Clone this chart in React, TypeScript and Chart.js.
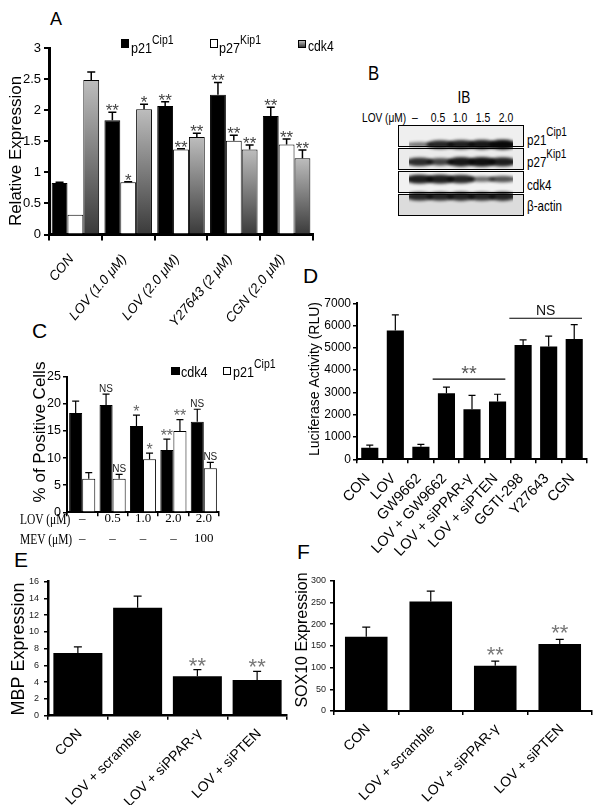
import React, { useEffect, useRef } from "react";
import { Chart, registerables } from "chart.js";
Chart.register(...registerables);

const SANS = '"Liberation Sans", Arial, sans-serif';
const SERIF = '"Liberation Serif", "Times New Roman", serif';

// ---------- Panel A ----------
const aCategories = ["CON", "LOV (1.0 μM)", "LOV (2.0 μM)", "Y27643 (2 μM)", "CGN (2.0 μM)"];
const aP21 = [0.83, 1.84, 2.07, 2.25, 1.91];
const aP21Err = [0.01, 0.13, 0.07, 0.2, 0.14];
const aP21Sig = ["", "**", "**", "**", "**"];
const aP27 = [0.32, 0.84, 1.37, 1.51, 1.45];
const aP27Err = [0, 0.01, 0.01, 0.09, 0.09];
const aP27Sig = ["", "*", "**", "**", "**"];
const aCdk4 = [2.49, 2.02, 1.57, 1.37, 1.23];
const aCdk4Err = [0.13, 0.08, 0.06, 0.07, 0.13];
const aCdk4Sig = ["", "*", "**", "**", "**"];

// ---------- Panel B (immunoblot) ----------
const blotLanes = ["–", "0.5", "1.0", "1.5", "2.0"];
const blotRowNames = ["p21", "p27", "cdk4", "β-actin"];
const blotRowSups = ["Cip1", "Kip1", "", ""];
const blotP21 = [0.3, 0.8, 0.85, 0.9, 1.0];
const blotP27 = [0.75, 0.6, 0.9, 0.95, 0.85];
const blotCdk4 = [0.85, 0.85, 0.8, 0.35, 0.5];
const blotActin = [0.8, 0.8, 0.82, 0.8, 0.82];

// ---------- Panel C ----------
const cLov = ["–", "0.5", "1.0", "2.0", "2.0"];
const cMev = ["–", "–", "–", "–", "100"];
const cCdk4 = [18.3, 19.8, 15.9, 11.5, 16.7];
const cCdk4Err = [2.2, 2.0, 2.0, 2.0, 2.3];
const cCdk4Sig = ["", "NS", "*", "**", "NS"];
const cP21 = [6.2, 6.2, 9.8, 15.0, 8.1];
const cP21Err = [1.1, 0.8, 1.1, 2.1, 1.1];
const cP21Sig = ["", "NS", "*", "**", "NS"];

// ---------- Panel D ----------
const dCategories = ["CON", "LOV", "GW9662", "LOV + GW9662", "LOV + siPPAR-γ", "LOV + siPTEN", "GGTI-298", "Y27643", "CGN"];
const dValues = [520, 5780, 560, 2960, 2250, 2590, 5130, 5060, 5400];
const dErr = [120, 700, 110, 280, 620, 330, 230, 470, 640];
const dBrackets = [
  { first: 3, last: 5, level: 3600, label: "**" },
  { first: 6, last: 8, level: 6330, label: "NS" },
];

// ---------- Panel E ----------
const eCategories = ["CON", "LOV + scramble", "LOV + siPPAR-γ", "LOV + siPTEN"];
const eValues = [7.5, 12.9, 4.7, 4.25];
const eErr = [0.72, 1.38, 0.8, 1.05];
const eSig = ["", "", "**", "**"];

// ---------- Panel F ----------
const fCategories = ["CON", "LOV + scramble", "LOV + siPPAR-γ", "LOV + siPTEN"];
const fValues = [171, 252, 104, 154];
const fErr = [22, 24, 11, 11];
const fSig = ["", "", "**", "**"];

// ---------- plugins ----------
const errPlugin = {
  id: "errbars",
  afterDatasetsDraw(chart: any, _a: any, o: any) {
    const ctx = chart.ctx;
    const ys = chart.scales.y;
    chart.data.datasets.forEach((ds: any, di: number) => {
      const meta = chart.getDatasetMeta(di);
      meta.data.forEach((el: any, i: number) => {
        const v = ds.data[i];
        const e = ds.err ? ds.err[i] : 0;
        const yTop = ys.getPixelForValue(v + e);
        ctx.save();
        if (e > 0) {
          ctx.strokeStyle = "#000";
          ctx.lineWidth = o.lw;
          ctx.beginPath();
          ctx.moveTo(el.x, el.y);
          ctx.lineTo(el.x, yTop);
          ctx.moveTo(el.x - o.cap / 2, yTop);
          ctx.lineTo(el.x + o.cap / 2, yTop);
          ctx.stroke();
        }
        const s = ds.sig ? ds.sig[i] : "";
        if (s) {
          const ns = s === "NS";
          ctx.font = ns ? o.nsFont : o.starFont;
          ctx.fillStyle = ns ? o.nsColor : o.starColor;
          ctx.textAlign = "center";
          ctx.textBaseline = "alphabetic";
          ctx.fillText(s, el.x, yTop - (ns ? o.nsGap : o.starGap));
        }
        ctx.restore();
      });
    });
  },
};

const titlePlugin = {
  id: "ytitle",
  afterDraw(chart: any, _a: any, o: any) {
    if (!o || !o.text) return;
    const ctx = chart.ctx;
    ctx.save();
    ctx.translate(o.cx, o.cy);
    ctx.rotate(-Math.PI / 2);
    ctx.font = `${o.size}px ${SANS}`;
    ctx.fillStyle = "#000";
    ctx.textAlign = "center";
    ctx.textBaseline = "middle";
    ctx.fillText(o.text, 0, 0);
    ctx.restore();
  },
};

const bracketPlugin = {
  id: "brackets",
  afterDatasetsDraw(chart: any, _a: any, o: any) {
    if (!o || !o.items) return;
    const xs = chart.scales.x;
    const ys = chart.scales.y;
    const ctx = chart.ctx;
    const half = (xs.getPixelForValue(1) - xs.getPixelForValue(0)) / 2;
    o.items.forEach((b: any) => {
      const x1 = xs.getPixelForValue(b.first) - half - 1;
      const x2 = xs.getPixelForValue(b.last) + half - 5;
      const y = ys.getPixelForValue(b.level);
      ctx.save();
      ctx.strokeStyle = "#000";
      ctx.lineWidth = 1.2;
      ctx.beginPath();
      ctx.moveTo(x1, y);
      ctx.lineTo(x2, y);
      ctx.stroke();
      const ns = b.label === "NS";
      ctx.font = ns ? `14px ${SANS}` : `20px ${SANS}`;
      ctx.fillStyle = ns ? "#111" : "#555";
      ctx.textAlign = "center";
      ctx.textBaseline = "alphabetic";
      ctx.fillText(b.label, (x1 + x2) / 2, ns ? y - 3 : y + 1);
      ctx.restore();
    });
  },
};

function grayGradient(c: any) {
  const chart = c.chart;
  const ys = chart.scales && chart.scales.y;
  if (!ys || c.type !== "data" || typeof c.raw !== "number") return "#888";
  const top = ys.getPixelForValue(c.raw);
  const bot = ys.getPixelForValue(0);
  if (!isFinite(top) || !isFinite(bot) || bot - top < 1) return "#888";
  const g = chart.ctx.createLinearGradient(0, top, 0, bot);
  g.addColorStop(0, "#bdbdbd");
  g.addColorStop(1, "#3a3a3a");
  return g;
}

type Box = { x: number; y: number; w: number; h: number };
type Area = { l: number; t: number; r: number; b: number };

function barChart(canvas: HTMLCanvasElement, s: any) {
  const box: Box = s.box;
  const area: Area = s.area;
  const yW = area.l - box.x;
  const xH = box.y + box.h - area.b;
  return new Chart(canvas, {
    type: "bar",
    data: {
      labels: s.labels,
      datasets: s.series.map((d: any) => ({
        data: d.data,
        err: d.err,
        sig: d.sig,
        backgroundColor: d.fill === "gradient" ? grayGradient : d.fill,
        borderColor: "#000",
        borderWidth: d.bw,
        barPercentage: s.barPct,
        categoryPercentage: s.catPct,
      })),
    } as any,
    options: {
      responsive: false,
      maintainAspectRatio: false,
      animation: false,
      events: [],
      layout: { padding: { top: area.t - box.y, right: box.x + box.w - area.r, left: 0, bottom: 0 } },
      plugins: {
        legend: { display: false },
        tooltip: { enabled: false },
        errbars: s.err,
        ytitle: { text: s.title.text, size: s.title.size, cx: s.title.cx - box.x, cy: s.title.cy - box.y },
        brackets: s.brackets ? { items: s.brackets } : undefined,
      } as any,
      scales: {
        x: {
          type: "category",
          offset: true,
          z: 1,
          grid: { offset: true, drawOnChartArea: false, drawTicks: true, tickLength: s.xTickLen, color: "#000", lineWidth: s.tickW },
          border: { display: true, color: "#000", width: s.axisW },
          ticks: {
            autoSkip: false,
            maxRotation: s.xRot,
            minRotation: s.xRot,
            font: s.xFont,
            color: "#000",
            padding: s.xPad,
            labelOffset: s.xOff || 0,
          },
          afterFit: (sc: any) => {
            sc.height = xH;
          },
        },
        y: {
          min: s.yMin,
          max: s.yMax,
          z: 1,
          grid: { drawOnChartArea: false, drawTicks: true, tickLength: s.yTickLen, color: "#000", lineWidth: s.tickW },
          border: { display: true, color: "#000", width: s.axisW },
          ticks: {
            stepSize: s.yStep,
            font: s.yFont,
            color: s.yColor,
            padding: s.yPad,
            callback: (v: any) => String(v),
          },
          afterFit: (sc: any) => {
            sc.width = yW;
          },
        },
      },
    } as any,
    plugins: [errPlugin, titlePlugin, bracketPlugin] as any,
  });
}

// ---------- layout specs ----------
const A_SPEC = {
  box: { x: 0, y: 30, w: 322, h: 300 },
  area: { l: 49, t: 48.3, r: 313, b: 234.5 },
  labels: aCategories,
  series: [
    { data: aP21, err: aP21Err, sig: aP21Sig, fill: "#000", bw: 1 },
    { data: aP27, err: aP27Err, sig: aP27Sig, fill: "#fff", bw: 1 },
    { data: aCdk4, err: aCdk4Err, sig: aCdk4Sig, fill: "gradient", bw: 1 },
  ],
  yMin: 0, yMax: 3, yStep: 0.5,
  yFont: { family: SANS, size: 13 }, yColor: "#000", yTickLen: 5, yPad: 3,
  xFont: { family: SANS, size: 13.5, style: "italic" }, xRot: 50, xTickLen: 6, xPad: 11, xOff: -4,
  axisW: 3, tickW: 2, barPct: 1, catPct: 0.9,
  title: { text: "Relative Expression", size: 17, cx: 16, cy: 151 },
  err: { lw: 1.5, cap: 8, starFont: `17px ${SANS}`, starColor: "#444", starGap: -4, nsFont: `11px ${SANS}`, nsColor: "#222", nsGap: 2 },
};

const C_SPEC = {
  box: { x: 0, y: 350, w: 235, h: 210 },
  area: { l: 67, t: 376.7, r: 219, b: 512.3 },
  labels: cLov.map((l, i) => [l, cMev[i]]),
  series: [
    { data: cCdk4, err: cCdk4Err, sig: cCdk4Sig, fill: "#000", bw: 1 },
    { data: cP21, err: cP21Err, sig: cP21Sig, fill: "#fff", bw: 1 },
  ],
  yMin: 0, yMax: 25, yStep: 5,
  yFont: { family: SANS, size: 12.5 }, yColor: "#000", yTickLen: 4, yPad: 2,
  xFont: { family: SERIF, size: 13, lineHeight: 1.5 }, xRot: 0, xTickLen: 4, xPad: -7,
  axisW: 2, tickW: 1.5, barPct: 1, catPct: 0.86,
  title: { text: "% of Positive Cells", size: 17, cx: 40, cy: 432 },
  err: { lw: 1.2, cap: 7, starFont: `16px ${SANS}`, starColor: "#666", starGap: -1.5, nsFont: `10px ${SANS}`, nsColor: "#222", nsGap: 2 },
};

const D_SPEC = {
  box: { x: 290, y: 280, w: 311, h: 300 },
  area: { l: 357, t: 303.3, r: 587, b: 459.3 },
  labels: dCategories,
  series: [{ data: dValues, err: dErr, sig: [], fill: "#000", bw: 0 }],
  yMin: 0, yMax: 7000, yStep: 1000,
  yFont: { family: SANS, size: 12 }, yColor: "#000", yTickLen: 4, yPad: 2,
  xFont: { family: SANS, size: 14.5 }, xRot: 47, xTickLen: 4, xPad: 7, xOff: -2,
  axisW: 2, tickW: 1.5, barPct: 0.67, catPct: 1,
  title: { text: "Luciferase Activity (RLU)", size: 14, cx: 315, cy: 379 },
  err: { lw: 1.2, cap: 7, starFont: `16px ${SANS}`, starColor: "#666", starGap: 0, nsFont: `14px ${SANS}`, nsColor: "#111", nsGap: 3 },
  brackets: dBrackets,
};

const E_SPEC = {
  box: { x: 0, y: 565, w: 300, h: 240 },
  area: { l: 48, t: 581.7, r: 287, b: 715.7 },
  labels: eCategories,
  series: [{ data: eValues, err: eErr, sig: eSig, fill: "#000", bw: 0 }],
  yMin: 0, yMax: 16, yStep: 2,
  yFont: { family: SANS, size: 9 }, yColor: "#222", yTickLen: 4, yPad: 5,
  xFont: { family: SANS, size: 14 }, xRot: 45, xTickLen: 4, xPad: 6, xOff: 2,
  axisW: 2.5, tickW: 1.5, barPct: 0.82, catPct: 1,
  title: { text: "MBP Expression", size: 18, cx: 19, cy: 649 },
  err: { lw: 1.2, cap: 8, starFont: `22px ${SANS}`, starColor: "#777", starGap: -3, nsFont: `11px ${SANS}`, nsColor: "#222", nsGap: 2 },
};

const F_SPEC = {
  box: { x: 290, y: 565, w: 311, h: 240 },
  area: { l: 334, t: 580.7, r: 592, b: 711 },
  labels: fCategories,
  series: [{ data: fValues, err: fErr, sig: fSig, fill: "#000", bw: 0 }],
  yMin: 0, yMax: 300, yStep: 50,
  yFont: { family: SANS, size: 9 }, yColor: "#222", yTickLen: 4, yPad: 4,
  xFont: { family: SANS, size: 14 }, xRot: 45, xTickLen: 4, xPad: 6, xOff: 2,
  axisW: 2, tickW: 1.5, barPct: 0.66, catPct: 1,
  title: { text: "SOX10 Expression", size: 16, cx: 303, cy: 640 },
  err: { lw: 1.2, cap: 8, starFont: `22px ${SANS}`, starColor: "#777", starGap: -1, nsFont: `11px ${SANS}`, nsColor: "#222", nsGap: 2 },
};

const BLOT_BOX = { x: 398, y: 125, w: 126, h: 91 };

function bandImage(intensity: number) {
  const c = document.createElement("canvas");
  c.width = 36;
  c.height = 20;
  const g = c.getContext("2d")!;
  g.filter = "blur(1.6px)";
  g.fillStyle = `rgba(8,8,8,${0.35 + 0.65 * intensity})`;
  g.beginPath();
  g.ellipse(18, 10, 14, 1.6 + 3.4 * intensity, 0, 0, Math.PI * 2);
  g.fill();
  return c;
}

function blotChart(canvas: HTMLCanvasElement) {
  const rows = [blotP21, blotP27, blotCdk4, blotActin];
  const pts: any[] = [];
  const imgs: any[] = [];
  rows.forEach((row, r) =>
    row.forEach((v, l) => {
      pts.push({ x: l + 1, y: r + 0.5 });
      imgs.push(bandImage(v));
    })
  );
  return new Chart(canvas, {
    type: "scatter",
    data: {
      datasets: [
        {
          data: pts,
          pointStyle: (c: any) => imgs[c.dataIndex],
          pointRadius: 10,
        },
      ],
    } as any,
    options: {
      responsive: false,
      maintainAspectRatio: false,
      animation: false,
      events: [],
      layout: { padding: 0 },
      plugins: { legend: { display: false }, tooltip: { enabled: false } },
      scales: {
        x: { type: "linear", min: 0.5, max: 0.5 + blotLanes.length, display: false },
        y: { type: "linear", min: 0, max: rows.length, reverse: true, display: false },
      },
    } as any,
  });
}

function T(props: any) {
  const { x, y, size, font = SANS, align = "left", color = "#000", sx = 1, children, style = {} } = props;
  const tx = align === "center" ? "-50%" : "0";
  return (
    <div
      style={{
        position: "absolute",
        left: x,
        top: y - 0.846 * size,
        fontSize: size,
        lineHeight: `${size}px`,
        fontFamily: font,
        color,
        whiteSpace: "nowrap",
        transform: `translateX(${tx}) scaleX(${sx})`,
        transformOrigin: align === "center" ? "center" : "left center",
        ...style,
      }}
    >
      {children}
    </div>
  );
}

function Sup({ children, size, dy }: any) {
  return <span style={{ fontSize: size, position: "relative", top: dy }}>{children}</span>;
}

function Sq({ x, y, w, h, bg }: any) {
  return (
    <div
      style={{ position: "absolute", left: x, top: y, width: w, height: h, background: bg, border: "1px solid #000", boxSizing: "border-box" }}
    />
  );
}

function ChartCanvas({ spec, build }: any) {
  const ref = useRef<HTMLCanvasElement>(null);
  useEffect(() => {
    const ch = build(ref.current!, spec);
    return () => ch.destroy();
  }, []);
  const b = spec.box;
  return (
    <canvas
      ref={ref}
      width={b.w}
      height={b.h}
      style={{ position: "absolute", left: b.x, top: b.y, width: b.w, height: b.h }}
    />
  );
}

const N = 0.84; // horizontal condensing of the figure's narrow lettering

export default function App() {
  const stripBg = ["#efefef", "#ebebeb", "#f1f1f1", "#dcdcdc"];
  return (
    <div style={{ position: "absolute", left: 0, top: 0, width: 601, height: 805, background: "#fff", overflow: "hidden", fontFamily: SANS }}>
      {/* panel letters */}
      <T x={50} y={25} size={18}>A</T>
      <T x={368} y={80} size={21} sx={0.8}>B</T>
      <T x={32} y={338} size={21}>C</T>
      <T x={303} y={283} size={21}>D</T>
      <T x={14} y={567} size={21}>E</T>
      <T x={297} y={559} size={21}>F</T>

      {/* Panel A */}
      <ChartCanvas spec={A_SPEC} build={barChart} />
      <Sq x={121} y={39} w={8} h={9} bg="#000" />
      <T x={131} y={52.5} size={15} sx={N}>p21<Sup size={12.5} dy={-9}>Cip1</Sup></T>
      <Sq x={210} y={39} w={8} h={9} bg="#fff" />
      <T x={218.5} y={52.5} size={15} sx={N}>p27<Sup size={12.5} dy={-9}>Kip1</Sup></T>
      <Sq x={298} y={40} w={8} h={8} bg="linear-gradient(#bdbdbd, #3a3a3a)" />
      <T x={308} y={51.5} size={14.5} sx={N}>cdk4</T>

      {/* Panel B */}
      <T x={464} y={103} size={17} sx={0.8} align="center">IB</T>
      <T x={362} y={122} size={13} sx={0.78}>LOV (μM)</T>
      {blotLanes.map((l, i) => (
        <T key={l + i} x={415 + i * 22.7} y={122} size={13} sx={0.8} align="center">{l}</T>
      ))}
      <div style={{ position: "absolute", left: BLOT_BOX.x, top: BLOT_BOX.y, width: BLOT_BOX.w, height: BLOT_BOX.h, display: "flex", flexDirection: "column", gap: 1 }}>
        {blotRowNames.map((n, i) => (
          <div key={n} style={{ flex: 1, border: "1px solid #000", background: stripBg[i] }} />
        ))}
      </div>
      <ChartCanvas spec={{ box: BLOT_BOX }} build={blotChart} />
      {blotRowNames.map((n, i) => (
        <T key={n} x={527} y={[145, 167, 190, 211][i]} size={14.5} sx={0.8}>
          {n}
          {blotRowSups[i] ? <Sup size={12.5} dy={-9}>{blotRowSups[i]}</Sup> : null}
        </T>
      ))}

      {/* Panel C */}
      <ChartCanvas spec={C_SPEC} build={barChart} />
      <Sq x={171} y={367} w={9} h={8} bg="#000" />
      <T x={181} y={376.5} size={15} sx={N}>cdk4</T>
      <Sq x={223} y={367} w={8} h={8} bg="#fff" />
      <T x={233} y={376.5} size={15} sx={N}>p21<Sup size={12.5} dy={-9}>Cip1</Sup></T>
      <T x={20} y={525} size={14} font={SERIF} sx={0.82}>LOV (μM)</T>
      <T x={20} y={545} size={14} font={SERIF} sx={0.82}>MEV (μM)</T>

      {/* Panel D */}
      <ChartCanvas spec={D_SPEC} build={barChart} />

      {/* Panel E, F */}
      <ChartCanvas spec={E_SPEC} build={barChart} />
      <ChartCanvas spec={F_SPEC} build={barChart} />
    </div>
  );
}
